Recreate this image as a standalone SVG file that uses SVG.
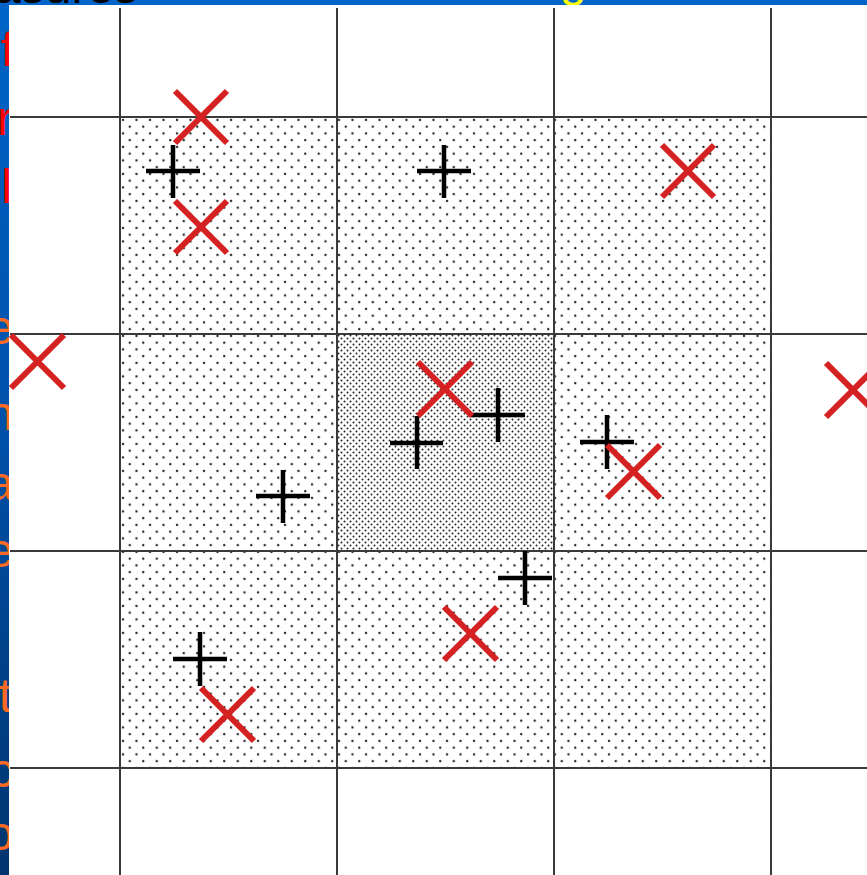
<svg xmlns="http://www.w3.org/2000/svg" width="867" height="875" viewBox="0 0 867 875">
  <style>
    .frag { font-family: "Liberation Sans", Arial, sans-serif; font-size: 48px; }
    .red { fill: #ff0000; }
    .orange { fill: #ff6a22; }
    .grid line { stroke: #3a3a3a; stroke-width: 2; }
    .x { stroke: #d42222; stroke-width: 6; stroke-linecap: butt; fill: none; }
    .p { stroke: #000000; stroke-width: 4.5; fill: none; }
  </style>
  <defs>
    <linearGradient id="bg" x1="0" y1="0" x2="0" y2="1">
      <stop offset="0" stop-color="#0064c8"/>
      <stop offset="0.5" stop-color="#0050a8"/>
      <stop offset="1" stop-color="#00346e"/>
    </linearGradient>
    <pattern id="light" width="13.5" height="13.5" patternUnits="userSpaceOnUse" x="120" y="117">
      <circle cx="3" cy="3" r="1.2" fill="#222"/>
      <circle cx="9.75" cy="9.75" r="1.2" fill="#222"/>
    </pattern>
    <pattern id="dense" width="6" height="6" patternUnits="userSpaceOnUse" x="337" y="334">
      <circle cx="1.5" cy="1.5" r="1" fill="#222"/>
      <circle cx="4.5" cy="4.5" r="1" fill="#222"/>
    </pattern>
    <clipPath id="leftclip"><rect x="0" y="0" width="9" height="875"/></clipPath>
    <clipPath id="topclip"><rect x="0" y="0" width="867" height="5"/></clipPath>
  </defs>

  <!-- slide background -->
  <rect x="0" y="0" width="867" height="875" fill="url(#bg)"/>

  <!-- clipped slide text fragments -->
  <g clip-path="url(#topclip)" class="frag">
    <text x="-6" y="3" fill="#000">asures</text>
    <text x="560" y="-4" fill="#ffff00">g</text>
  </g>
  <g clip-path="url(#leftclip)" class="frag" text-anchor="end">
    <text x="14" y="66" class="red">f</text>
    <text x="13" y="135" class="red">r</text>
    <text x="12" y="203" class="red">l</text>
    <text x="14" y="344" class="orange">e</text>
    <text x="14" y="430" class="orange">n</text>
    <text x="14" y="500" class="orange">a</text>
    <text x="14" y="567" class="orange">e</text>
    <text x="12" y="712" class="orange">t</text>
    <text x="14" y="787" class="orange">c</text>
    <text x="14" y="850" class="orange">o</text>
  </g>

  <!-- white picture area -->
  <rect x="9" y="5" width="858" height="870" fill="#ffffff"/>

  <!-- shaded cells -->
  <g id="shading">
    <rect x="120" y="117" width="651" height="651" fill="url(#light)"/>
    <rect x="337" y="334" width="217" height="217" fill="#ffffff"/>
    <rect x="337" y="334" width="217" height="217" fill="url(#dense)"/>
  </g>

  <!-- grid -->
  <g id="grid" class="grid">
    <line x1="120" y1="8" x2="120" y2="875"/>
    <line x1="337" y1="8" x2="337" y2="875"/>
    <line x1="554" y1="8" x2="554" y2="875"/>
    <line x1="771" y1="8" x2="771" y2="875"/>
    <line x1="10" y1="117" x2="867" y2="117"/>
    <line x1="10" y1="334" x2="867" y2="334"/>
    <line x1="10" y1="551" x2="867" y2="551"/>
    <line x1="10" y1="768" x2="867" y2="768"/>
  </g>

  <!-- black plus markers -->
  <g id="plus-markers" class="p">
    <path d="M146 171H200M173 145V198"/>
    <path d="M417 171H471M444 145V198"/>
    <path d="M471 415H525M498 388V442"/>
    <path d="M390 443H443M417 416V469"/>
    <path d="M580 442H634M607 415V469"/>
    <path d="M256 496H310M283 470V523"/>
    <path d="M498 578H552M525 551V605"/>
    <path d="M173 659H227M200 632V686"/>
  </g>

  <!-- red x markers -->
  <g id="x-markers" class="x">
    <path d="M175 91L227 143M227 91L175 143"/>
    <path d="M175 201L227 253M227 201L175 253"/>
    <path d="M662 145L714 197M714 145L662 197"/>
    <path d="M11 335L64 388M64 335L11 388"/>
    <path d="M418 362L472 416M472 362L418 416"/>
    <path d="M826 363L880 417M880 363L826 417"/>
    <path d="M607 445L660 498M660 445L607 498"/>
    <path d="M444 607L497 660M497 607L444 660"/>
    <path d="M201 688L254 741M254 688L201 741"/>
  </g>
</svg>
